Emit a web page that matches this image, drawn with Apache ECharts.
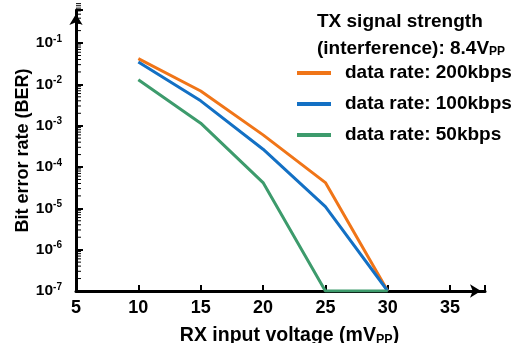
<!DOCTYPE html>
<html>
<head>
<meta charset="utf-8">
<script src="https://cdn.jsdelivr.net/npm/echarts@6/dist/echarts.min.js"></script>
<style>html,body{margin:0;padding:0;background:#fff}#c{width:514px;height:343px}</style>
</head>
<body>
<div id="c"></div>
<script>
var voltages = [10, 15, 20, 25, 30];
var ber200 = [4.2e-2, 6.9e-3, 6.0e-4, 4.2e-5, 1e-7];
var ber100 = [3.5e-2, 4.0e-3, 2.7e-4, 1.1e-5, 1e-7];
var ber50 = [1.3e-2, 1.15e-3, 4.2e-5, 1e-7, 1e-7];
var seriesNames = ['data rate: 200kbps', 'data rate: 100kbps', 'data rate: 50kbps'];
var xTickLabels = [5, 10, 15, 20, 25, 30, 35];
var yDecades = [-7, -6, -5, -4, -3, -2, -1];

var colors = ['#F07518', '#1370C4', '#3D9B6C'];
var font = '"Liberation Sans", Arial, sans-serif';

function toPairs(vals) {
  return voltages.map(function (v, i) { return [v, Math.log10(vals[i])]; });
}
// minor (log-spaced) tick values, derived from the decades
var minorTickVals = [];
yDecades.forEach(function (d) {
  for (var k = 2; k <= 9; k++) minorTickVals.push([d + Math.log10(k)]);
});

var chart = echarts.init(document.getElementById('c'));
chart.setOption({
  animation: false,
  textStyle: { fontFamily: font },
  title: {
    left: 317, top: 8, padding: 0,
    text: 'TX signal strength\n(interference): 8.4V{sub|PP}',
    textStyle: {
      fontFamily: font, fontSize: 19, fontWeight: 'bold', color: '#000', lineHeight: 27,
      rich: { sub: { fontFamily: font, fontSize: 12, fontWeight: 'bold', color: '#000', padding: [7, 0, 0, 0] } }
    }
  },
  legend: {
    orient: 'vertical', left: 297, top: 63, padding: 0,
    itemWidth: 34, itemHeight: 4, itemGap: 11, icon: 'rect',
    data: seriesNames,
    textStyle: { fontFamily: font, fontSize: 19, fontWeight: 'bold', color: '#000', lineHeight: 20, padding: [0, 0, 0, 9] }
  },
  grid: { left: 76, right: 29, top: 10, bottom: 52, containLabel: false, outerBoundsMode: 'none' },
  xAxis: {
    type: 'value', min: 5, max: 37.8, interval: 5,
    name: 'RX input voltage (mV{sub|PP})', nameLocation: 'middle', nameGap: 34, nameMoveOverlap: false,
    nameTextStyle: {
      fontFamily: font, fontSize: 19.5, fontWeight: 'bold', color: '#000', padding: [0, 0, 0, 18],
      rich: { sub: { fontFamily: font, fontSize: 12.5, fontWeight: 'bold', color: '#000', padding: [8, 0, 0, 0] } }
    },
    axisLine: { show: true, lineStyle: { color: '#000', width: 3 }, symbol: ['none', 'arrow'], symbolSize: [10, 11], symbolOffset: [0, -4] },
    axisTick: { show: true, inside: true, length: 6, lineStyle: { color: '#000', width: 2 } },
    axisLabel: {
      color: '#000', fontFamily: font, fontSize: 18, fontWeight: 'bold', margin: 8,
      formatter: function (v) { return xTickLabels.indexOf(v) >= 0 ? String(v) : ''; }
    },
    splitLine: { show: false }
  },
  yAxis: {
    type: 'value', min: -7, max: -0.2, interval: 1,
    name: 'Bit error rate (BER)', nameLocation: 'middle', nameGap: 44, nameRotate: 90, nameMoveOverlap: false,
    nameTextStyle: { fontFamily: font, fontSize: 18, fontWeight: 'bold', color: '#000' },
    axisLine: { show: true, lineStyle: { color: '#000', width: 3 }, symbol: ['none', 'arrow'], symbolSize: [10, 11], symbolOffset: [0, -4] },
    axisTick: { show: true, inside: true, length: 7, lineStyle: { color: '#000', width: 2 } },
    axisLabel: {
      margin: 14, color: '#000', fontFamily: font, fontSize: 15.5, fontWeight: 'bold',
      formatter: function (v) {
        var r = Math.round(v);
        if (Math.abs(v - r) > 1e-6 || yDecades.indexOf(r) < 0) return '';
        return '{b|10}{sup|' + r + '}';
      },
      rich: {
        b: { fontFamily: font, fontSize: 15.5, fontWeight: 'bold', color: '#000' },
        sup: { fontFamily: font, fontSize: 10, fontWeight: 'bold', color: '#000', padding: [0, 0, 8, 0] }
      }
    },
    splitLine: { show: false }
  },
  series: [
    { name: seriesNames[0], type: 'line', data: toPairs(ber200), showSymbol: false, symbol: 'none', lineStyle: { width: 3, color: colors[0] }, itemStyle: { color: colors[0] } },
    { name: seriesNames[1], type: 'line', data: toPairs(ber100), showSymbol: false, symbol: 'none', lineStyle: { width: 3, color: colors[1] }, itemStyle: { color: colors[1] } },
    { name: seriesNames[2], type: 'line', data: toPairs(ber50), showSymbol: false, symbol: 'none', lineStyle: { width: 3, color: colors[2] }, itemStyle: { color: colors[2] } },
    {
      type: 'custom', silent: true, z: 1,
      encode: { y: 0 },
      data: minorTickVals,
      renderItem: function (params, api) {
        var p = api.coord([5, api.value(0)]);
        return { type: 'line', shape: { x1: p[0], y1: p[1], x2: p[0] + 5, y2: p[1] }, style: { stroke: '#000', lineWidth: 1 } };
      }
    }
  ]
});
</script>
</body>
</html>
